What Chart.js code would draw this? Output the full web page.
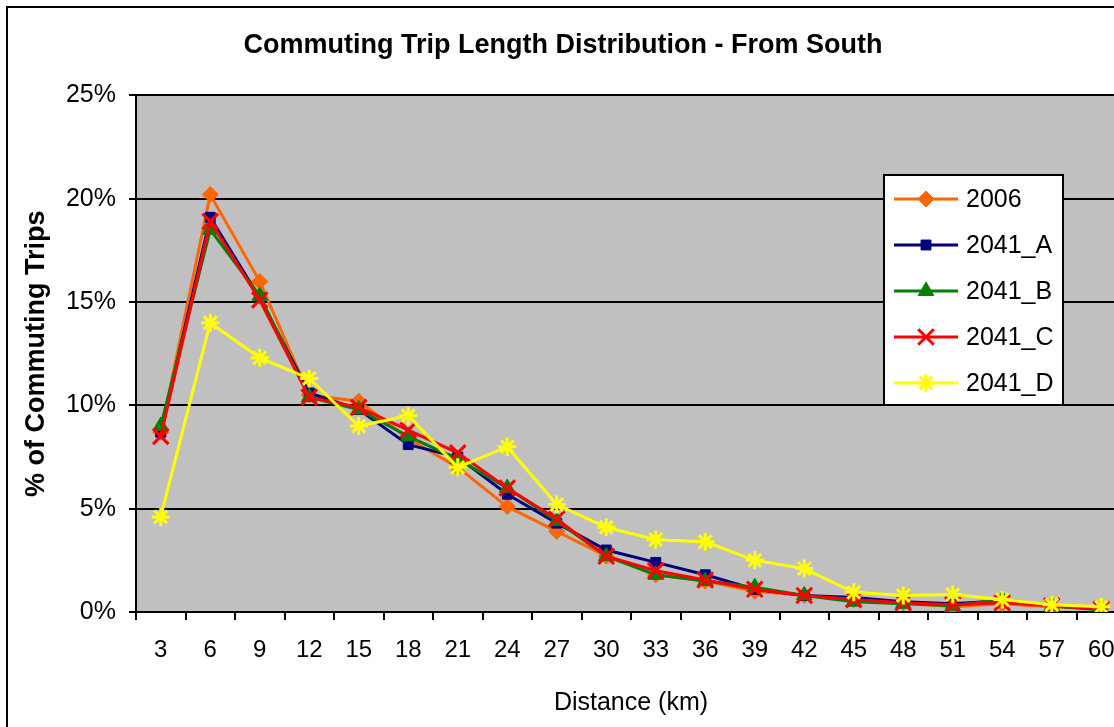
<!DOCTYPE html>
<html>
<head>
<meta charset="utf-8">
<script src="https://cdn.jsdelivr.net/npm/chart.js@4.4.1/dist/chart.umd.min.js"></script>
<style>
  html, body { margin: 0; padding: 0; background: #fff; overflow: hidden; }
  #wrap { width: 1114px; height: 727px; overflow: hidden; }
</style>
</head>
<body>
<div id="wrap"><canvas id="tripChart" width="1140" height="727"></canvas></div>
<script>
// distance bands (km)
const distances = [3, 6, 9, 12, 15, 18, 21, 24, 27, 30, 33, 36, 39, 42, 45, 48, 51, 54, 57, 60];

// % of commuting trips per scenario
const trips2006  = [8.7, 20.2, 16.0, 10.5, 10.2, 8.4, 7.0, 5.1, 3.9, 2.7, 1.8, 1.5, 1.0, 0.8, 0.6, 0.45, 0.25, 0.4, 0.25, 0.15];
const trips2041A = [8.7, 19.1, 15.2, 10.6, 9.8, 8.1, 7.5, 5.7, 4.3, 3.0, 2.4, 1.8, 1.1, 0.8, 0.7, 0.5, 0.4, 0.55, 0.3, 0.15];
const trips2041B = [9.0, 18.5, 15.3, 10.4, 9.8, 8.5, 7.4, 6.0, 4.4, 2.7, 1.8, 1.5, 1.2, 0.8, 0.5, 0.4, 0.3, 0.6, 0.3, 0.1];
const trips2041C = [8.5, 18.9, 15.1, 10.4, 9.9, 8.8, 7.7, 6.0, 4.5, 2.7, 2.0, 1.55, 1.1, 0.8, 0.6, 0.45, 0.35, 0.45, 0.3, 0.15];
const trips2041D = [4.6, 14.0, 12.3, 11.3, 9.0, 9.5, 7.0, 8.0, 5.2, 4.1, 3.5, 3.4, 2.5, 2.1, 0.95, 0.8, 0.85, 0.6, 0.35, 0.25];

const yTicks = [0, 5, 10, 15, 20, 25];

const FONT = "'Liberation Sans', Arial, sans-serif";

function series(label, data, color, style, radius, order) {
    return {
        label: label,
        data: data,
        borderColor: color,
        backgroundColor: color,
        borderWidth: 3,
        pointStyle: style,
        pointRadius: radius,
        pointBorderWidth: style === 'crossRot' || style === 'star' ? 3 : 1,
        pointBorderColor: color,
        pointBackgroundColor: color,
        tension: 0,
        order: order
    };
}

// grey plot area, outer frame and the boxed legend
const decor = {
    id: 'decor',
    beforeDraw(chart) {
        const { ctx, chartArea: a } = chart;
        ctx.save();
        ctx.fillStyle = '#c0c0c0';
        ctx.fillRect(a.left, a.top, a.right - a.left, a.bottom - a.top);
        ctx.restore();
    },
    afterDraw(chart) {
        const ctx = chart.ctx;
        ctx.save();
        ctx.strokeStyle = '#000';
        ctx.lineWidth = 2;
        ctx.strokeRect(7, 7, 1200, 800);

        // legend box
        const bx = 884, by = 175, bw = 179, bh = 230;
        ctx.fillStyle = '#fff';
        ctx.fillRect(bx, by, bw, bh);
        ctx.strokeRect(bx, by, bw, bh);
        const rowY = [199, 245, 291, 337, 383];
        chart.data.datasets.forEach((ds, i) => {
            const y = rowY[i];
            ctx.strokeStyle = ds.borderColor;
            ctx.lineWidth = 3;
            ctx.beginPath();
            ctx.moveTo(894, y);
            ctx.lineTo(958, y);
            ctx.stroke();
            ctx.fillStyle = ds.backgroundColor;
            ctx.lineWidth = ds.pointBorderWidth;
            if (Chart.helpers && Chart.helpers.drawPoint) {
                Chart.helpers.drawPoint(ctx, {
                    pointStyle: ds.pointStyle,
                    radius: ds.pointRadius,
                    borderWidth: ds.pointBorderWidth,
                    rotation: 0
                }, 926, y);
            }
            ctx.fillStyle = '#000';
            ctx.font = '25px ' + FONT;
            ctx.textBaseline = 'middle';
            ctx.textAlign = 'left';
            ctx.fillText(ds.label, 966, y + 1);
        });
        ctx.restore();
    }
};

const tripChart = new Chart(document.getElementById('tripChart'), {
    type: 'line',
    data: {
        labels: distances,
        datasets: [
            series('2006', trips2006, '#ff6600', 'rectRot', 8, 4),
            series('2041_A', trips2041A, '#000080', 'rect', 7, 3),
            series('2041_B', trips2041B, '#008000', 'triangle', 9, 2),
            series('2041_C', trips2041C, '#ff0000', 'crossRot', 11, 1),
            series('2041_D', trips2041D, '#ffff00', 'star', 9, 0)
        ]
    },
    options: {
        responsive: false,
        animation: false,
        devicePixelRatio: 1,
        layout: { padding: { top: 0, right: 14, bottom: 0, left: 0 } },
        plugins: {
            legend: { display: false },
            tooltip: { enabled: false },
            title: {
                display: true,
                text: 'Commuting Trip Length Distribution - From South',
                color: '#000',
                font: { family: FONT, size: 27, weight: 'bold' },
                padding: { top: 29, bottom: 34 }
            }
        },
        scales: {
            x: {
                type: 'category',
                offset: true,
                grid: {
                    display: true,
                    offset: true,
                    drawOnChartArea: false,
                    color: '#000',
                    lineWidth: 2,
                    tickLength: 8
                },
                border: { color: '#000', width: 2 },
                ticks: {
                    color: '#000',
                    font: { family: FONT, size: 24 },
                    padding: 16,
                    maxRotation: 0,
                    autoSkip: false
                },
                title: {
                    display: true,
                    text: 'Distance (km)',
                    color: '#000',
                    font: { family: FONT, size: 25 },
                    padding: { top: 0, bottom: 9 }
                },
                afterFit(scale) { scale.height = 115; }
            },
            y: {
                min: 0,
                max: 25,
                afterBuildTicks(scale) { scale.ticks = yTicks.map(v => ({ value: v })); },
                grid: {
                    color: '#000',
                    lineWidth: 2,
                    tickLength: 7
                },
                border: { color: '#000', width: 2 },
                ticks: {
                    color: '#000',
                    font: { family: FONT, size: 25 },
                    padding: 13,
                    callback: v => v + '%'
                },
                title: {
                    display: true,
                    text: '% of Commuting Trips',
                    color: '#000',
                    font: { family: FONT, size: 27, weight: 'bold' },
                    padding: { top: 20, bottom: 0 }
                },
                afterFit(scale) { scale.width = 136; }
            }
        }
    },
    plugins: [decor]
});
</script>
</body>
</html>
